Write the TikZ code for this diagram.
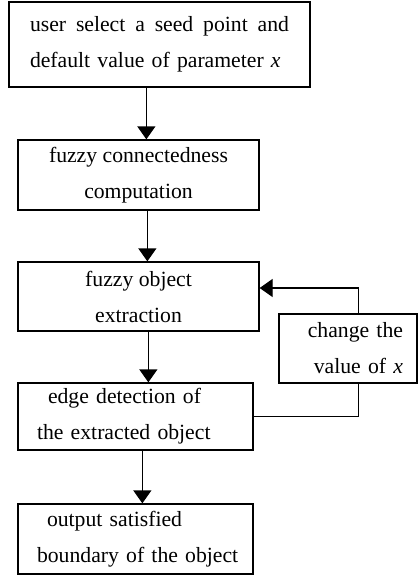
\documentclass[tikz,border=0pt]{standalone}
\usepackage{fontspec}
\setmainfont{Liberation Serif}
\usetikzlibrary{arrows.meta}

\begin{document}
\begin{tikzpicture}[x=1pt,y=-1pt,
        stepbox/.style={draw, line width=1.3pt, inner sep=0pt,
            font=\fontsize{21.7}{36}\selectfont, align=center},
        arr/.style={line width=1.3pt, -{Triangle[width=18pt,length=13pt]}}]
    \useasboundingbox (0,0) rectangle (418,581);
    \node[stepbox, minimum width=301pt, minimum height=85pt, inner xsep=21pt,
        text width=259pt, align=left] (seed) at (159.5,44.5) {
        \makebox[259pt]{user\hfill select\hfill a\hfill seed\hfill point\hfill and}\\
        default value of parameter \textit{x}
    };
    \node[stepbox, minimum width=241pt, minimum height=70pt] (conn) at (138.5,175) {
        fuzzy connectedness\\
        computation
    };
    \node[stepbox, minimum width=241pt, minimum height=69pt] (extr) at (138.5,296.5) {
        fuzzy object\\
        extraction
    };
    \node[stepbox, minimum width=138pt, minimum height=69pt, inner xsep=14pt,
        text width=110pt, align=right] (change) at (348,348.5) {
        change the\\
        value of \textit{x}
    };
    \node[stepbox, minimum width=235pt, minimum height=67pt, inner xsep=19pt,
        text width=197pt, align=left] (edge) at (135.5,416.5) {
        \hspace*{11pt}edge detection of\\
        the extracted object
    };
    \node[stepbox, minimum width=235pt, minimum height=70pt, inner xsep=19pt,
        text width=197pt, align=left] (outp) at (135.5,539) {
        \hspace*{10pt}output satisfied\\
        \mbox{boundary of the object}
    };
    % main flow
    \draw[arr] ([xshift=129pt]conn.north west |- seed.south) -- ([xshift=129pt]conn.north west);
    \draw[arr] ([xshift=130pt]extr.north west |- conn.south) -- ([xshift=130pt]extr.north west);
    \draw[arr] ([xshift=131pt]edge.north west |- extr.south) -- ([xshift=131pt]edge.north west);
    \draw[arr] ([xshift=125pt]outp.north west |- edge.south) -- ([xshift=125pt]outp.north west);
    % feedback loop
    \draw[line width=1.3pt] (edge.east) -| ([xshift=80pt]change.south west);
    \draw[arr] ([xshift=80pt]change.north west) |- ([yshift=8.5pt]extr.east);
\end{tikzpicture}
\end{document}
